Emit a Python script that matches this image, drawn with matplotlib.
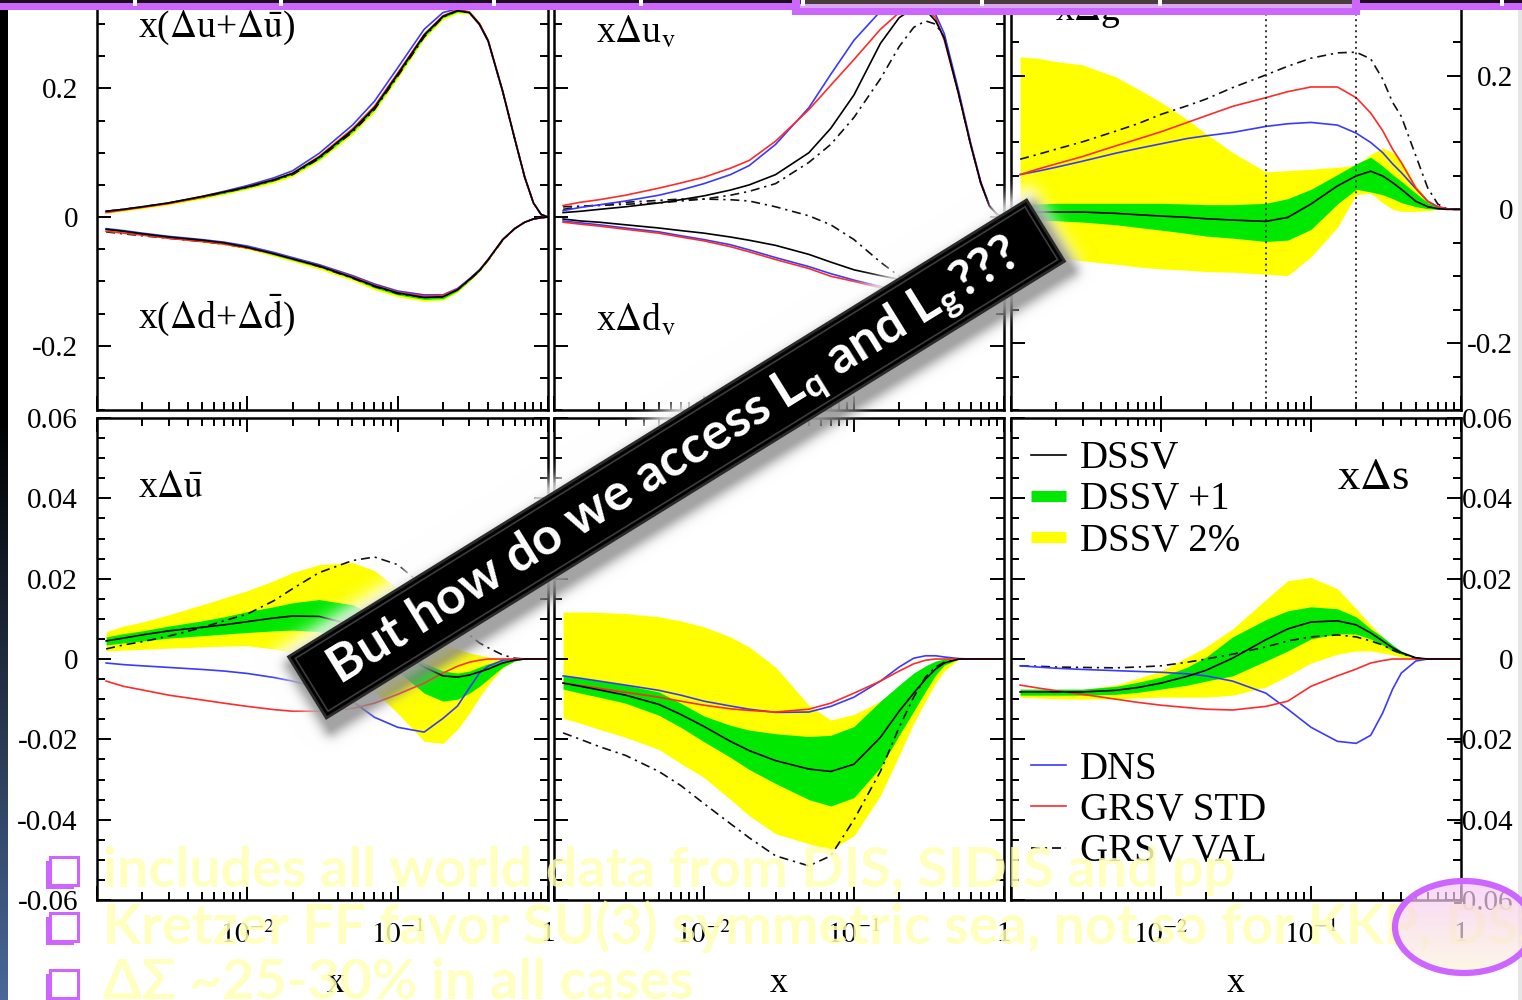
import numpy as np
import matplotlib
matplotlib.use("Agg")
import matplotlib.pyplot as plt
from matplotlib.lines import Line2D
from matplotlib.patches import Polygon, Rectangle, Ellipse
from matplotlib.ticker import (FixedLocator, FixedFormatter, MultipleLocator,
                               LogLocator, NullFormatter)

plt.rcParams['font.family'] = ['Liberation Serif', 'DejaVu Serif']
plt.rcParams['mathtext.fontset'] = 'stix'
plt.rcParams['axes.unicode_minus'] = False
plt.rcParams['lines.scale_dashes'] = False

W, H, DPI = 1522, 1000, 100

# ------------------------------------------------------------------
# momentum-fraction grid shared by every curve
x = np.array([0.00115, 0.0015, 0.002, 0.003, 0.005, 0.007, 0.01, 0.015, 0.02,
              0.03, 0.05, 0.07, 0.1, 0.15, 0.2, 0.25, 0.3, 0.35, 0.4, 0.5,
              0.6, 0.7, 0.8, 0.9, 1.0])

# x(Δu+Δū)
uplus_dssv = [0.009, 0.012, 0.016, 0.022, 0.032, 0.039, 0.047, 0.058, 0.068, 0.093, 0.135, 0.170, 0.222, 0.283, 0.312, 0.321, 0.318, 0.300, 0.274, 0.195, 0.122, 0.062, 0.022, 0.004, 0.0]
uplus_lo1 = [0.008, 0.011, 0.015, 0.021, 0.030, 0.037, 0.045, 0.056, 0.066, 0.090, 0.132, 0.167, 0.219, 0.280, 0.310, 0.319, 0.317, 0.299, 0.273, 0.194, 0.121, 0.062, 0.022, 0.004, 0.0]
uplus_hi1 = [0.010, 0.013, 0.017, 0.023, 0.033, 0.040, 0.048, 0.060, 0.070, 0.096, 0.138, 0.173, 0.225, 0.286, 0.314, 0.323, 0.319, 0.301, 0.275, 0.196, 0.123, 0.062, 0.022, 0.004, 0.0]
uplus_lo2 = [0.006, 0.009, 0.013, 0.019, 0.028, 0.035, 0.043, 0.053, 0.063, 0.087, 0.128, 0.163, 0.215, 0.277, 0.307, 0.317, 0.315, 0.297, 0.271, 0.193, 0.120, 0.061, 0.021, 0.004, 0.0]
uplus_hi2 = [0.011, 0.014, 0.018, 0.024, 0.035, 0.042, 0.050, 0.062, 0.072, 0.098, 0.141, 0.176, 0.228, 0.288, 0.316, 0.325, 0.321, 0.303, 0.277, 0.197, 0.124, 0.063, 0.023, 0.005, 0.0]
uplus_dns = [0.009, 0.012, 0.016, 0.022, 0.032, 0.040, 0.049, 0.061, 0.072, 0.099, 0.143, 0.180, 0.232, 0.292, 0.318, 0.324, 0.318, 0.299, 0.273, 0.195, 0.122, 0.062, 0.022, 0.004, 0.0]
uplus_std = [0.007, 0.011, 0.015, 0.021, 0.031, 0.039, 0.047, 0.058, 0.068, 0.094, 0.137, 0.172, 0.224, 0.284, 0.313, 0.322, 0.319, 0.301, 0.275, 0.196, 0.123, 0.062, 0.022, 0.004, 0.0]
uplus_val = [0.009, 0.012, 0.016, 0.022, 0.031, 0.038, 0.046, 0.057, 0.066, 0.091, 0.132, 0.167, 0.219, 0.280, 0.311, 0.321, 0.318, 0.300, 0.274, 0.195, 0.122, 0.062, 0.022, 0.004, 0.0]

# x(Δd+Δd̄)
dplus_dssv = [-0.019, -0.022, -0.026, -0.031, -0.036, -0.040, -0.047, -0.057, -0.065, -0.076, -0.094, -0.107, -0.118, -0.125, -0.124, -0.113, -0.097, -0.083, -0.066, -0.035, -0.018, -0.008, -0.003, -0.001, 0.0]
dplus_lo1 = [-0.020, -0.023, -0.027, -0.032, -0.037, -0.041, -0.048, -0.059, -0.067, -0.078, -0.096, -0.110, -0.121, -0.128, -0.127, -0.115, -0.099, -0.084, -0.067, -0.035, -0.018, -0.008, -0.003, -0.001, 0.0]
dplus_hi1 = [-0.018, -0.021, -0.025, -0.030, -0.035, -0.039, -0.046, -0.055, -0.063, -0.074, -0.092, -0.104, -0.115, -0.122, -0.121, -0.111, -0.095, -0.082, -0.065, -0.035, -0.018, -0.008, -0.003, -0.001, 0.0]
dplus_lo2 = [-0.021, -0.024, -0.028, -0.033, -0.039, -0.043, -0.050, -0.061, -0.069, -0.081, -0.099, -0.113, -0.124, -0.131, -0.129, -0.117, -0.100, -0.085, -0.068, -0.036, -0.018, -0.008, -0.003, -0.001, 0.0]
dplus_hi2 = [-0.017, -0.020, -0.024, -0.029, -0.034, -0.038, -0.044, -0.054, -0.062, -0.072, -0.089, -0.102, -0.113, -0.120, -0.119, -0.109, -0.094, -0.081, -0.064, -0.034, -0.017, -0.008, -0.003, -0.001, 0.0]
dplus_dns = [-0.018, -0.021, -0.025, -0.030, -0.035, -0.039, -0.045, -0.055, -0.063, -0.074, -0.091, -0.104, -0.115, -0.121, -0.121, -0.111, -0.096, -0.082, -0.066, -0.035, -0.018, -0.008, -0.003, -0.001, 0.0]
dplus_std = [-0.022, -0.025, -0.028, -0.033, -0.038, -0.042, -0.048, -0.057, -0.065, -0.076, -0.093, -0.106, -0.117, -0.123, -0.122, -0.112, -0.097, -0.083, -0.066, -0.035, -0.018, -0.008, -0.003, -0.001, 0.0]
dplus_val = [-0.023, -0.026, -0.029, -0.033, -0.038, -0.042, -0.048, -0.057, -0.065, -0.077, -0.095, -0.108, -0.119, -0.125, -0.124, -0.113, -0.098, -0.084, -0.067, -0.036, -0.018, -0.008, -0.003, -0.001, 0.0]

# xΔu_v
uv_dssv = [0.007, 0.009, 0.012, 0.016, 0.022, 0.027, 0.033, 0.042, 0.050, 0.066, 0.100, 0.138, 0.190, 0.270, 0.310, 0.325, 0.322, 0.305, 0.278, 0.190, 0.112, 0.053, 0.017, 0.004, 0.0]
uv_dns = [0.010, 0.015, 0.019, 0.025, 0.034, 0.042, 0.052, 0.066, 0.080, 0.113, 0.170, 0.222, 0.275, 0.320, 0.345, 0.350, 0.340, 0.315, 0.285, 0.195, 0.115, 0.055, 0.018, 0.004, 0.0]
uv_std = [0.018, 0.023, 0.027, 0.034, 0.045, 0.053, 0.062, 0.076, 0.088, 0.118, 0.167, 0.205, 0.245, 0.292, 0.318, 0.328, 0.325, 0.310, 0.275, 0.190, 0.113, 0.052, 0.017, 0.004, 0.0]
uv_val = [0.016, 0.017, 0.018, 0.020, 0.022, 0.025, 0.028, 0.034, 0.040, 0.052, 0.085, 0.113, 0.155, 0.215, 0.265, 0.295, 0.305, 0.300, 0.280, 0.190, 0.112, 0.053, 0.017, 0.004, 0.0]

# xΔd_v
dv_dssv = [-0.003, -0.006, -0.008, -0.012, -0.017, -0.021, -0.025, -0.031, -0.036, -0.044, -0.058, -0.070, -0.082, -0.091, -0.097, -0.098, -0.095, -0.090, -0.083, -0.065, -0.045, -0.027, -0.012, -0.004, 0.0]
dv_dns = [-0.006, -0.009, -0.012, -0.017, -0.023, -0.029, -0.035, -0.043, -0.051, -0.063, -0.077, -0.088, -0.098, -0.108, -0.113, -0.114, -0.110, -0.103, -0.094, -0.072, -0.050, -0.030, -0.013, -0.004, 0.0]
dv_std = [-0.008, -0.011, -0.014, -0.019, -0.025, -0.031, -0.037, -0.046, -0.054, -0.066, -0.080, -0.092, -0.100, -0.110, -0.116, -0.117, -0.113, -0.106, -0.097, -0.075, -0.052, -0.031, -0.014, -0.004, 0.0]
dv_val = [0.012, 0.016, 0.019, 0.023, 0.026, 0.028, 0.028, 0.027, 0.025, 0.016, 0.002, -0.012, -0.035, -0.070, -0.092, -0.100, -0.100, -0.095, -0.087, -0.068, -0.047, -0.028, -0.012, -0.004, 0.0]

# xΔg
g_dssv = [-0.004, -0.004, -0.004, -0.004, -0.006, -0.008, -0.010, -0.012, -0.014, -0.016, -0.018, -0.012, 0.008, 0.035, 0.050, 0.057, 0.050, 0.040, 0.030, 0.012, 0.004, 0.001, 0.0, 0.0, 0.0]
g_lo1 = [-0.015, -0.016, -0.017, -0.019, -0.023, -0.027, -0.031, -0.036, -0.040, -0.043, -0.048, -0.046, -0.030, 0.008, 0.030, 0.026, 0.022, 0.016, 0.010, 0.004, 0.001, 0.0, 0.0, 0.0, 0.0]
g_hi1 = [0.007, 0.008, 0.009, 0.009, 0.009, 0.009, 0.009, 0.008, 0.007, 0.007, 0.009, 0.016, 0.030, 0.052, 0.068, 0.078, 0.065, 0.052, 0.042, 0.024, 0.010, 0.004, 0.001, 0.0, 0.0]
g_lo2 = [-0.064, -0.068, -0.072, -0.077, -0.082, -0.086, -0.089, -0.091, -0.093, -0.094, -0.097, -0.099, -0.071, -0.027, 0.022, 0.024, 0.010, 0.0, -0.003, -0.003, -0.002, 0.0, 0.0, 0.0, 0.0]
g_hi2 = [0.228, 0.226, 0.221, 0.216, 0.198, 0.180, 0.160, 0.134, 0.113, 0.085, 0.056, 0.058, 0.060, 0.063, 0.066, 0.082, 0.092, 0.085, 0.073, 0.036, 0.014, 0.003, 0.0, 0.0, 0.0]
g_dns = [0.052, 0.057, 0.063, 0.072, 0.084, 0.091, 0.098, 0.106, 0.110, 0.115, 0.124, 0.128, 0.130, 0.126, 0.114, 0.100, 0.085, 0.068, 0.055, 0.031, 0.012, 0.004, 0.001, 0.0, 0.0]
g_std = [0.052, 0.060, 0.068, 0.079, 0.095, 0.105, 0.116, 0.130, 0.140, 0.154, 0.167, 0.176, 0.183, 0.183, 0.167, 0.144, 0.118, 0.090, 0.070, 0.032, 0.012, 0.004, 0.001, 0.0, 0.0]
g_val = [0.075, 0.082, 0.090, 0.101, 0.117, 0.128, 0.142, 0.155, 0.165, 0.182, 0.201, 0.214, 0.226, 0.234, 0.235, 0.225, 0.195, 0.160, 0.139, 0.080, 0.032, 0.008, 0.001, 0.0, 0.0]

# xΔū
ub_dssv = [0.0045, 0.0052, 0.006, 0.007, 0.0079, 0.0085, 0.0093, 0.0102, 0.0107, 0.0106, 0.0085, 0.006, 0.002, -0.002, -0.0042, -0.0045, -0.004, -0.0032, -0.0025, -0.001, -0.0003, 0.0, 0.0, 0.0, 0.0]
ub_lo1 = [0.0035, 0.004, 0.0045, 0.0052, 0.0058, 0.0062, 0.0066, 0.007, 0.0072, 0.0068, 0.004, 0.0005, -0.003, -0.0085, -0.0105, -0.010, -0.0085, -0.0068, -0.005, -0.002, -0.0005, 0.0, 0.0, 0.0, 0.0]
ub_hi1 = [0.0055, 0.0063, 0.007, 0.0082, 0.0095, 0.0105, 0.0118, 0.013, 0.014, 0.0148, 0.0135, 0.011, 0.006, -0.001, -0.003, -0.0035, -0.003, -0.002, -0.0012, -0.0003, 0.0, 0.0, 0.0, 0.0, 0.0]
ub_lo2 = [0.002, 0.0022, 0.0024, 0.0027, 0.003, 0.0032, 0.0033, 0.0025, 0.0015, -0.0005, -0.004, -0.008, -0.0135, -0.0205, -0.021, -0.0175, -0.0135, -0.0095, -0.0065, -0.0022, -0.0005, 0.0, 0.0, 0.0, 0.0]
ub_hi2 = [0.0068, 0.0082, 0.0092, 0.011, 0.0135, 0.0152, 0.017, 0.0195, 0.0215, 0.0235, 0.024, 0.022, 0.0175, 0.009, 0.004, 0.0025, 0.0015, 0.001, 0.0005, 0.0001, 0.0, 0.0, 0.0, 0.0, 0.0]
ub_dns = [-0.001, -0.0014, -0.0017, -0.0021, -0.0026, -0.003, -0.0036, -0.0046, -0.0055, -0.0072, -0.0105, -0.0145, -0.017, -0.0182, -0.0148, -0.0117, -0.0072, -0.0035, -0.0018, -0.0003, 0.0, 0.0, 0.0, 0.0, 0.0]
ub_std = [-0.0055, -0.0068, -0.0077, -0.009, -0.0102, -0.011, -0.0118, -0.0126, -0.013, -0.013, -0.0123, -0.011, -0.0088, -0.006, -0.0035, -0.0018, -0.0008, -0.0003, 0.0, 0.0, 0.0, 0.0, 0.0, 0.0, 0.0]
ub_val = [0.0025, 0.0035, 0.0043, 0.0057, 0.0078, 0.0095, 0.0112, 0.0145, 0.0175, 0.0215, 0.0245, 0.0254, 0.0235, 0.018, 0.013, 0.009, 0.006, 0.004, 0.0028, 0.001, 0.0002, 0.0, 0.0, 0.0, 0.0]

# xΔd̄
db_dssv = [-0.006, -0.0068, -0.0077, -0.009, -0.0113, -0.0138, -0.0168, -0.0205, -0.0228, -0.0253, -0.0274, -0.028, -0.0262, -0.0195, -0.013, -0.0085, -0.005, -0.0025, -0.001, 0.0, 0.0, 0.0, 0.0, 0.0, 0.0]
db_lo1 = [-0.0075, -0.0085, -0.0095, -0.011, -0.014, -0.017, -0.0206, -0.0245, -0.0275, -0.031, -0.035, -0.0366, -0.0345, -0.027, -0.019, -0.013, -0.008, -0.004, -0.0015, 0.0, 0.0, 0.0, 0.0, 0.0, 0.0]
db_hi1 = [-0.0042, -0.0048, -0.0055, -0.0065, -0.0082, -0.011, -0.0142, -0.0165, -0.0177, -0.0186, -0.0193, -0.019, -0.0168, -0.0105, -0.0065, -0.0035, -0.0017, -0.0005, 0.0, 0.0, 0.0, 0.0, 0.0, 0.0, 0.0]
db_lo2 = [-0.0147, -0.016, -0.0175, -0.0195, -0.0225, -0.026, -0.0295, -0.035, -0.039, -0.0435, -0.046, -0.0475, -0.044, -0.034, -0.024, -0.016, -0.0105, -0.006, -0.003, 0.0, 0.0, 0.0, 0.0, 0.0, 0.0]
db_hi2 = [0.0117, 0.0117, 0.0116, 0.0113, 0.0105, 0.0095, 0.008, 0.0055, 0.003, -0.002, -0.0115, -0.0152, -0.0138, -0.0105, -0.0068, -0.004, -0.0022, -0.0008, 0.0, 0.0, 0.0, 0.0, 0.0, 0.0, 0.0]
db_dns = [-0.0042, -0.0048, -0.0055, -0.0065, -0.0078, -0.009, -0.0105, -0.0117, -0.0125, -0.0133, -0.0132, -0.0118, -0.0095, -0.0055, -0.002, 0.0002, 0.0008, 0.0008, 0.0005, 0.0001, 0.0, 0.0, 0.0, 0.0, 0.0]
db_std = [-0.006, -0.0066, -0.0073, -0.0083, -0.0095, -0.0105, -0.0115, -0.0124, -0.0128, -0.0132, -0.0125, -0.011, -0.0085, -0.0055, -0.003, -0.0012, -0.0003, 0.0, 0.0, 0.0, 0.0, 0.0, 0.0, 0.0, 0.0]
db_val = [-0.0184, -0.020, -0.0218, -0.024, -0.028, -0.0315, -0.036, -0.041, -0.0445, -0.049, -0.0515, -0.049, -0.040, -0.028, -0.017, -0.0095, -0.0045, -0.002, -0.0008, 0.0, 0.0, 0.0, 0.0, 0.0, 0.0]

# xΔs
s_dssv = [-0.0082, -0.0082, -0.0082, -0.0082, -0.0078, -0.0071, -0.006, -0.0043, -0.0028, 0.0002, 0.0048, 0.0075, 0.0092, 0.0095, 0.0085, 0.0065, 0.0045, 0.0028, 0.0016, 0.0003, 0.0, 0.0, 0.0, 0.0, 0.0]
s_lo1 = [-0.009, -0.009, -0.009, -0.009, -0.0088, -0.0083, -0.0075, -0.0065, -0.0055, -0.0042, -0.0005, 0.002, 0.005, 0.0063, 0.0062, 0.005, 0.0035, 0.002, 0.0012, 0.0002, 0.0, 0.0, 0.0, 0.0, 0.0]
s_hi1 = [-0.0075, -0.0075, -0.0075, -0.0075, -0.0068, -0.0058, -0.0045, -0.002, 0.0005, 0.0055, 0.0098, 0.012, 0.013, 0.0125, 0.0105, 0.0075, 0.0055, 0.0035, 0.002, 0.0004, 0.0, 0.0, 0.0, 0.0, 0.0]
s_lo2 = [-0.0095, -0.0097, -0.0099, -0.010, -0.0099, -0.0097, -0.0095, -0.0095, -0.0095, -0.009, -0.007, -0.0042, -0.001, 0.0012, 0.002, 0.002, 0.0015, 0.001, 0.0005, 0.0, 0.0, 0.0, 0.0, 0.0, 0.0]
s_hi2 = [-0.008, -0.0079, -0.0078, -0.0076, -0.0065, -0.0048, -0.003, 0.0005, 0.003, 0.0075, 0.0148, 0.0195, 0.0203, 0.0175, 0.0125, 0.0085, 0.0055, 0.003, 0.0015, 0.0, 0.0, 0.0, 0.0, 0.0, 0.0]
s_dns = [-0.0017, -0.002, -0.0023, -0.0026, -0.0029, -0.0031, -0.0033, -0.0037, -0.0042, -0.0055, -0.0085, -0.0125, -0.017, -0.0205, -0.021, -0.019, -0.0135, -0.0075, -0.0035, -0.0005, 0.0, 0.0, 0.0, 0.0, 0.0]
s_std = [-0.0065, -0.0072, -0.0079, -0.0088, -0.010, -0.0108, -0.0115, -0.0121, -0.0125, -0.0127, -0.0118, -0.0105, -0.0068, -0.0042, -0.0025, -0.001, -0.0004, 0.0, 0.0, 0.0, 0.0, 0.0, 0.0, 0.0, 0.0]
s_val = [-0.0017, -0.0018, -0.002, -0.0021, -0.0022, -0.002, -0.0017, -0.0008, 0.0, 0.0012, 0.003, 0.0045, 0.0055, 0.006, 0.0055, 0.0045, 0.0035, 0.0022, 0.0014, 0.0002, 0.0, 0.0, 0.0, 0.0, 0.0]

# gluon reference x values marked by dotted lines
g_marks = [0.05, 0.2]

# axis ticks and their labels
x_major = [1e-3, 1e-2, 1e-1, 1.0]
x_labels = ['', '$10^{-2}$', '$10^{-1}$', '1']
top_ticks = [-0.2, 0.0, 0.2]
top_labels = ['-0.2', '0', '0.2']
bot_ticks = [-0.06, -0.04, -0.02, 0.0, 0.02, 0.04, 0.06]
bot_labels = ['-0.06', '-0.04', '-0.02', '0', '0.02', '0.04', '0.06']

legend_top = ['DSSV', 'DSSV +1', 'DSSV 2%']
legend_bot = ['DNS', 'GRSV STD', 'GRSV VAL']

bullets = ['includes all world data from DIS, SIDIS and pp',
           'Kretzer FF favor SU(3) symmetric sea, not so for KKP, DSS',
           'ΔΣ ~25-30% in all cases']
banner = r'But how do we access L$_\mathregular{q}$ and L$_\mathregular{g}$???'

BLUE, RED = '#3a3aff', '#ff2a2a'
GREEN, YELLOW = '#00e800', '#ffff00'
PURPLE = '#cc66ff'
DASHDOT = (6.5, 3.5, 1.6, 3.5)

# ------------------------------------------------------------------
fig = plt.figure(figsize=(W / DPI, H / DPI), dpi=DPI)
fig.patch.set_facecolor('white')


def px_axes(x0, y0, x1, y1):
    return fig.add_axes([x0 / W, 1 - y1 / H, (x1 - x0) / W, (y1 - y0) / H])


def style(ax, ylim, ticks, labels, minor, side, bottom_labels):
    ax.set_xscale('log')
    ax.set_xlim(1e-3, 1)
    ax.set_ylim(*ylim)
    ax.xaxis.set_major_locator(FixedLocator(x_major))
    ax.xaxis.set_major_formatter(FixedFormatter(x_labels))
    ax.xaxis.set_minor_locator(LogLocator(base=10, subs=np.arange(2, 10), numticks=20))
    ax.xaxis.set_minor_formatter(NullFormatter())
    ax.yaxis.set_major_locator(FixedLocator(ticks))
    ax.yaxis.set_major_formatter(FixedFormatter(labels))
    ax.yaxis.set_minor_locator(MultipleLocator(minor))
    ax.tick_params(which='both', direction='in', top=True, right=True,
                   width=1.4, labelsize=21)
    ax.tick_params(which='major', length=10)
    ax.tick_params(which='minor', length=5.5)
    ax.tick_params(axis='x', pad=15, labelbottom=bottom_labels)
    if side == 'left':
        ax.tick_params(axis='y', pad=13.7)
    elif side == 'right':
        ax.tick_params(axis='y', labelleft=False, labelright=True, pad=37.5)
    else:
        ax.tick_params(axis='y', labelleft=False)
    for sp in ax.spines.values():
        sp.set_linewidth(1.8)
    if bottom_labels:
        ax.set_xlabel('x', fontsize=26)
        ax.xaxis.set_label_coords(0.5, -0.14)


def curves(ax, dssv, dns, std, val, lo1=None, hi1=None, lo2=None, hi2=None):
    if lo2 is not None:
        ax.fill_between(x, lo2, hi2, color=YELLOW, lw=0, zorder=1)
    if lo1 is not None:
        ax.fill_between(x, lo1, hi1, color=GREEN, lw=0, zorder=2)
    ax.plot(x, val, color='#111111', lw=1.2, dashes=DASHDOT, zorder=3)
    ax.plot(x, dns, color=BLUE, lw=1.2, zorder=4)
    ax.plot(x, std, color=RED, lw=1.2, zorder=4)
    ax.plot(x, dssv, color='k', lw=1.2, zorder=5)


top_y0, top_y1 = -8, 410
bot_y0, bot_y1 = 418, 900
cols = [(97, 548), (554, 1004), (1011, 1461)]

ax_A = px_axes(cols[0][0], top_y0, cols[0][1], top_y1)
ax_B = px_axes(cols[1][0], top_y0, cols[1][1], top_y1)
ax_C = px_axes(cols[2][0], top_y0, cols[2][1], top_y1)
ax_D = px_axes(cols[0][0], bot_y0, cols[0][1], bot_y1)
ax_E = px_axes(cols[1][0], bot_y0, cols[1][1], bot_y1)
ax_F = px_axes(cols[2][0], bot_y0, cols[2][1], bot_y1)

style(ax_A, (-0.3, 0.35), top_ticks, top_labels, 0.05, 'left', False)
style(ax_B, (-0.3, 0.35), top_ticks, top_labels, 0.05, 'none', False)
style(ax_C, (-0.3, 0.325), top_ticks, top_labels, 0.05, 'right', False)
style(ax_D, (-0.06, 0.06), bot_ticks, bot_labels, 0.005, 'left', True)
style(ax_E, (-0.06, 0.06), bot_ticks, bot_labels, 0.005, 'none', True)
style(ax_F, (-0.06, 0.06), bot_ticks, bot_labels, 0.005, 'right', True)
ax_D.xaxis.set_label_coords(0.53, -0.14)

curves(ax_A, uplus_dssv, uplus_dns, uplus_std, uplus_val,
       uplus_lo1, uplus_hi1, uplus_lo2, uplus_hi2)
curves(ax_A, dplus_dssv, dplus_dns, dplus_std, dplus_val,
       dplus_lo1, dplus_hi1, dplus_lo2, dplus_hi2)
curves(ax_B, uv_dssv, uv_dns, uv_std, uv_val)
curves(ax_B, dv_dssv, dv_dns, dv_std, dv_val)
curves(ax_C, g_dssv, g_dns, g_std, g_val, g_lo1, g_hi1, g_lo2, g_hi2)
for xm in g_marks:
    ax_C.axvline(xm, color='#222222', lw=1.3, dashes=(1.4, 2.6), zorder=6)
curves(ax_D, ub_dssv, ub_dns, ub_std, ub_val, ub_lo1, ub_hi1, ub_lo2, ub_hi2)
curves(ax_E, db_dssv, db_dns, db_std, db_val, db_lo1, db_hi1, db_lo2, db_hi2)
curves(ax_F, s_dssv, s_dns, s_std, s_val, s_lo1, s_hi1, s_lo2, s_hi2)

lab = dict(fontsize=27, ha='left', va='center')
ax_A.text(0.091, 0.914, r'x($\Delta$u+$\Delta\bar{\rm u}$)', transform=ax_A.transAxes, **lab)
ax_A.text(0.091, 0.225, r'x($\Delta$d+$\Delta\bar{\rm d}$)', transform=ax_A.transAxes, **lab)
ax_B.text(0.093, 0.905, r'x$\Delta$u$_{\rm v}$', transform=ax_B.transAxes, **lab)
ax_B.text(0.093, 0.215, r'x$\Delta$d$_{\rm v}$', transform=ax_B.transAxes, **lab)
ax_C.text(0.098, 0.955, r'x$\Delta$g', transform=ax_C.transAxes, **lab)
ax_D.text(0.091, 0.855, r'x$\Delta\bar{\rm u}$', transform=ax_D.transAxes, **lab)
ax_E.text(0.093, 0.855, r'x$\Delta\bar{\rm d}$', transform=ax_E.transAxes, **lab)
ax_F.text(0.725, 0.876, r'x$\Delta$s', transform=ax_F.transAxes,
          fontsize=32, ha='left', va='center')

h_top = [Line2D([], [], color='k', lw=1.2),
         Line2D([], [], color=GREEN, lw=8, solid_capstyle='butt'),
         Line2D([], [], color=YELLOW, lw=8, solid_capstyle='butt')]
h_bot = [Line2D([], [], color=BLUE, lw=1.2),
         Line2D([], [], color=RED, lw=1.2),
         Line2D([], [], color='k', lw=1.2, dashes=DASHDOT)]
leg_kw = dict(frameon=False, fontsize=28, handlelength=0.9, handletextpad=0.35,
              labelspacing=0.11, borderpad=0.0, borderaxespad=0.0)
leg1 = ax_F.legend(h_top, legend_top, loc='upper left',
                   bbox_to_anchor=(0.045, 0.954), **leg_kw)
ax_F.add_artist(leg1)
ax_F.legend(h_bot, legend_bot, loc='lower left',
            bbox_to_anchor=(0.045, 0.062), **leg_kw)

# ------------------------------------------------------------------
# slide layer on top of the figure, in pixel units
ov = fig.add_axes([0, 0, 1, 1], zorder=20)
ov.patch.set_visible(False)
ov.axis('off')


def reset_ov():
    ov.set_xlim(0, W)
    ov.set_ylim(H, 0)


# left background strip of the slide
t = np.clip((np.arange(H) - 420) / 580.0, 0, 1)
strip = np.stack([74 / 255 * t, 104 / 255 * t, 152 / 255 * t], axis=1)[:, None, :]
ov.imshow(strip, extent=(0, 8, H, 0), aspect='auto', zorder=1)
ov.add_patch(Rectangle((1518, 0), 4, H, color='#e6e6e6', lw=0, zorder=1))

# top ribbon
ov.add_patch(Rectangle((0, 0), W, 2.5, color='#1a0f1a', lw=0, zorder=2))
ov.add_patch(Rectangle((0, 2.5), W, 7, color=PURPLE, lw=0, zorder=2))
ov.add_patch(Rectangle((792, 0), 568, 15, color=PURPLE, lw=0, zorder=3))
ov.add_patch(Rectangle((800, 0), 552, 4, color='#4a3c3c', lw=0, zorder=3))
ov.add_patch(Rectangle((800, 4), 552, 3.5, color='#dba6f2', lw=0, zorder=3))
for tx in [135, 281, 494, 641, 803, 982, 1160, 1502]:
    ov.add_patch(Rectangle((tx - 2, 0), 4, 6, color='white', lw=0, zorder=4))

# rotated banner with glow and drop shadow
ang = np.deg2rad(31.75)
ct, st = np.cos(ang), np.sin(ang)
cx, cy, hl, hw = 676.5, 459.0, 434.0, 36.0
yy, xx = np.mgrid[0:H, 0:W] + 0.5


def rect_dist(ccx, ccy):
    dx, dy = xx - ccx, yy - ccy
    u = dx * ct - dy * st
    v = dx * st + dy * ct
    du = np.maximum(np.abs(u) - hl, 0)
    dv = np.maximum(np.abs(v) - hw, 0)
    return np.hypot(du, dv)


a_g = 0.85 * np.exp(-(rect_dist(cx, cy) / 15.0) ** 2)
a_s = 0.55 * np.exp(-(rect_dist(cx + 5, cy + 9) / 10.0) ** 2)
a = a_s + a_g * (1 - a_s)
c = (0.35 * a_s + 1.0 * a_g * (1 - a_s)) / np.maximum(a, 1e-6)
halo = np.dstack([c, c, c, a])
ov.imshow(halo, extent=(0, W, H, 0), aspect='auto', zorder=5, interpolation='bilinear')

ux, uy, vx, vy = ct, -st, st, ct
corners = [(cx - hl * ux - hw * vx, cy - hl * uy - hw * vy),
           (cx + hl * ux - hw * vx, cy + hl * uy - hw * vy),
           (cx + hl * ux + hw * vx, cy + hl * uy + hw * vy),
           (cx - hl * ux + hw * vx, cy - hl * uy + hw * vy)]
ov.add_patch(Polygon(corners, closed=True, facecolor='black',
                     edgecolor='#2a2a2a', lw=2, zorder=6))
k = 5.0
inner = [(cx - (hl - k) * ux - (hw - k) * vx, cy - (hl - k) * uy - (hw - k) * vy),
         (cx + (hl - k) * ux - (hw - k) * vx, cy + (hl - k) * uy - (hw - k) * vy),
         (cx + (hl - k) * ux + (hw - k) * vx, cy + (hl - k) * uy + (hw - k) * vy),
         (cx - (hl - k) * ux + (hw - k) * vx, cy - (hl - k) * uy + (hw - k) * vy)]
ov.add_patch(Polygon(inner, closed=True, facecolor='none',
                     edgecolor='#3c3c3c', lw=1.2, zorder=6))
reset_ov()

fig.canvas.draw()
renderer = fig.canvas.get_renderer()


def text_width(s, **kw):
    tt = ov.text(0, 0, s, **kw)
    w = tt.get_window_extent(renderer).width
    tt.remove()
    return w


sans = dict(family=['Lato', 'DejaVu Sans'], weight='bold')
fs_ban = 30 * 805.0 / text_width(banner, fontsize=30, **sans)
ov.text(cx - 2, cy + 3, banner, rotation=31.75, rotation_mode='anchor',
        ha='center', va='center', color='white', fontsize=fs_ban, zorder=7, **sans)

fs_bul = 30 * 1132.0 / text_width(bullets[0], fontsize=30, **sans)
for i, (s, base) in enumerate(zip(bullets, [887, 944, 999])):
    ov.text(103, base, s, ha='left', va='baseline', color='#ffffb4', alpha=0.85,
            fontsize=fs_bul, zorder=8, **sans)
for top in [857, 913, 970]:
    ov.add_patch(Rectangle((46, top + 4), 28, 28, facecolor=PURPLE, lw=0, zorder=9))
    ov.add_patch(Rectangle((50, top), 28, 28, facecolor='white',
                           edgecolor=PURPLE, lw=2.2, zorder=9))

# highlight ellipse
ell_clip = Ellipse((1464, 927), 138, 92, transform=ov.transData)
grad = np.zeros((60, 1, 4))
tt = np.linspace(0, 1, 60)
grad[:, 0, 0] = 0.97 + 0.02 * tt
grad[:, 0, 1] = 0.78 + 0.18 * tt
grad[:, 0, 2] = 0.97 - 0.12 * tt
grad[:, 0, 3] = 0.7
gi = ov.imshow(grad, extent=(1395, 1533, 973, 881), aspect='auto', zorder=10)
gi.set_clip_path(ell_clip)
ov.add_patch(Ellipse((1464, 927), 138, 92, facecolor='none', edgecolor=PURPLE,
                     lw=4.5, zorder=11))
reset_ov()

fig.canvas.draw()
for axr in (ax_C, ax_F):
    for tk in axr.yaxis.get_major_ticks():
        tk.label2.set_horizontalalignment('right')

fig.savefig('out.png', dpi=DPI)
